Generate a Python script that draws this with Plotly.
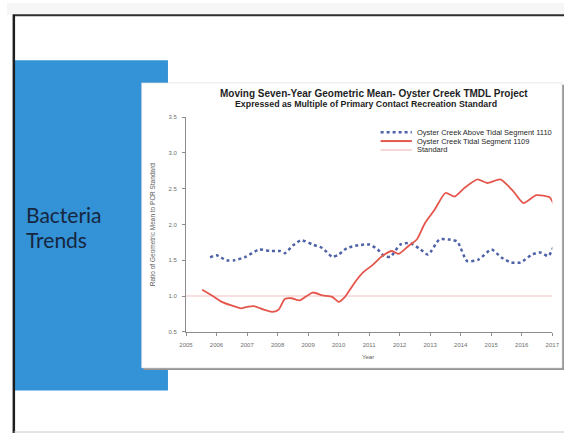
import plotly.graph_objects as go

W, H = 571, 436

# ---------------- data ----------------
red_years = [2005.53, 2005.85, 2006.17, 2006.49, 2006.80, 2007.00, 2007.23, 2007.55, 2007.82,
             2008.03, 2008.24, 2008.46, 2008.72, 2009.15, 2009.47, 2009.79, 2010.00, 2010.21,
             2010.53, 2010.80, 2011.10, 2011.43, 2011.75, 2011.97, 2012.29, 2012.56, 2012.83,
             2013.15, 2013.50, 2013.80, 2014.12, 2014.55, 2014.87, 2015.30, 2015.73, 2016.05,
             2016.48, 2016.91, 2017.05]
red_vals = [1.09, 1.01, 0.92, 0.87, 0.83, 0.85, 0.86, 0.81, 0.78,
            0.81, 0.96, 0.97, 0.94, 1.05, 1.01, 0.99, 0.92, 0.99,
            1.19, 1.33, 1.43, 1.56, 1.63, 1.59, 1.70, 1.79, 2.02,
            2.21, 2.44, 2.39, 2.51, 2.63, 2.58, 2.63, 2.46, 2.30,
            2.41, 2.38, 2.28]

blue_years = [2005.79, 2006.00, 2006.33, 2006.59, 2006.96, 2007.39, 2007.76, 2008.08, 2008.24,
              2008.51, 2008.78, 2009.15, 2009.47, 2009.79, 2010.00, 2010.27, 2010.64, 2011.01,
              2011.28, 2011.49, 2011.70, 2012.02, 2012.34, 2012.66, 2012.93, 2013.30, 2013.62,
              2013.89, 2014.21, 2014.58, 2015.01, 2015.33, 2015.65, 2015.96, 2016.33, 2016.60,
              2016.87, 2017.05]
blue_vals = [1.54, 1.57, 1.50, 1.50, 1.55, 1.65, 1.63, 1.63, 1.60,
             1.71, 1.78, 1.72, 1.67, 1.55, 1.58, 1.67, 1.71, 1.72,
             1.65, 1.56, 1.55, 1.72, 1.74, 1.66, 1.58, 1.79, 1.79,
             1.76, 1.49, 1.51, 1.65, 1.54, 1.47, 1.47, 1.58, 1.61,
             1.56, 1.70]

std_years = [2005.0, 2017.0]
std_vals = [1.0, 1.0]

x_ticks = list(range(2005, 2018))
y_ticks = [0.5, 1.0, 1.5, 2.0, 2.5, 3.0, 3.5]
y_tick_labels = ["0.5", "1.0", "1.5", "2.0", "2.5", "3.0", "3.5"]

series_names = ["Oyster Creek Above Tidal Segment 1110",
                "Oyster Creek Tidal Segment 1109",
                "Standard"]

title1 = "Moving Seven-Year Geometric Mean- Oyster Creek TMDL Project"
title2 = "Expressed as Multiple of Primary Contact Recreation Standard"

# ---------------- styling ----------------
FONT = "Liberation Sans"
BLUE_LINE = "rgb(78,98,168)"
RED_LINE = "rgb(228,86,76)"
STD_LINE = "rgb(246,214,214)"
SLIDE_BLUE = "rgb(52,146,214)"


def px(x):
    return x / W


def py(y):
    return 1 - y / H


fig = go.Figure()
fig.add_trace(go.Scatter(x=std_years, y=std_vals, mode="lines", name=series_names[2],
                         line=dict(color=STD_LINE, width=1.5), showlegend=False))
fig.add_trace(go.Scatter(x=blue_years, y=blue_vals, mode="lines", name=series_names[0],
                         line=dict(color=BLUE_LINE, width=2.5, dash="dot", shape="spline",
                                   smoothing=0.6), showlegend=False))
fig.add_trace(go.Scatter(x=red_years, y=red_vals, mode="lines", name=series_names[1],
                         line=dict(color=RED_LINE, width=1.8, shape="spline", smoothing=0.6),
                         showlegend=False))

shapes = []
# slide background tint above the frame
shapes.append(dict(type="rect", xref="paper", yref="paper", x0=0, x1=1, y0=py(12), y1=1,
                   fillcolor="rgb(246,246,246)", line=dict(width=0), layer="below"))
# blue slide block
shapes.append(dict(type="rect", xref="paper", yref="paper", x0=px(8), x1=px(165),
                   y0=py(393), y1=py(58), fillcolor=SLIDE_BLUE, line=dict(width=0), layer="below"))
# chart panel shadow
shapes.append(dict(type="rect", xref="paper", yref="paper", x0=px(140), x1=px(571),
                   y0=py(372), y1=py(83), fillcolor="rgb(150,150,150)", line=dict(width=0),
                   layer="below"))
# chart panel
shapes.append(dict(type="rect", xref="paper", yref="paper", x0=px(138), x1=px(569),
                   y0=py(370), y1=py(81), fillcolor="white",
                   line=dict(width=0.6, color="rgb(215,215,215)"), layer="below"))
# slide frame lines
shapes.append(dict(type="line", xref="paper", yref="paper", x0=px(6), x1=1, y0=py(12.5),
                   y1=py(12.5), line=dict(color="rgb(45,45,45)", width=2), layer="above"))
shapes.append(dict(type="line", xref="paper", yref="paper", x0=px(7), x1=px(7), y0=0,
                   y1=py(12), line=dict(color="rgb(30,30,30)", width=2.5), layer="above"))
shapes.append(dict(type="line", xref="paper", yref="paper", x0=px(7), x1=1, y0=py(435),
                   y1=py(435), line=dict(color="rgb(200,200,200)", width=1), layer="above"))

# custom compact legend
leg_x0, leg_x1 = 383, 415
leg_rows = [131, 140, 149]
leg_styles = [dict(color=BLUE_LINE, width=2.5, dash="dot"),
              dict(color=RED_LINE, width=2),
              dict(color=STD_LINE, width=2)]
for yy, st in zip(leg_rows, leg_styles):
    shapes.append(dict(type="line", xref="paper", yref="paper", x0=px(leg_x0), x1=px(leg_x1),
                       y0=py(yy), y1=py(yy), line=st, layer="above"))

annotations = []
for yy, name in zip(leg_rows, series_names):
    annotations.append(dict(xref="paper", yref="paper", x=px(418), y=py(yy), text=name,
                            showarrow=False, xanchor="left", yanchor="middle",
                            font=dict(family=FONT, size=7.5, color="rgb(40,40,40)")))

annotations.append(dict(xref="paper", yref="paper", x=px(376), y=py(92), text="<b>" + title1 + "</b>",
                        showarrow=False, xanchor="center", yanchor="middle",
                        font=dict(family=FONT, size=10, color="rgb(30,30,30)")))
annotations.append(dict(xref="paper", yref="paper", x=px(368), y=py(102), text="<b>" + title2 + "</b>",
                        showarrow=False, xanchor="center", yanchor="middle",
                        font=dict(family=FONT, size=8.8, color="rgb(30,30,30)")))
annotations.append(dict(xref="paper", yref="paper", x=px(150), y=py(224),
                        text="Ratio of Geometric Mean to PCR Standard",
                        showarrow=False, textangle=-90, xanchor="center", yanchor="middle",
                        font=dict(family=FONT, size=6.5, color="rgb(90,90,90)")))
annotations.append(dict(xref="paper", yref="paper", x=px(370), y=py(359), text="Year",
                        showarrow=False, xanchor="center", yanchor="middle",
                        font=dict(family=FONT, size=6, color="rgb(90,90,90)")))
annotations.append(dict(xref="paper", yref="paper", x=px(17), y=py(214), text="Bacteria",
                        showarrow=False, xanchor="left", yanchor="middle",
                        font=dict(family="Lato", size=21, color="rgb(22,38,62)")))
annotations.append(dict(xref="paper", yref="paper", x=px(17), y=py(240), text="Trends",
                        showarrow=False, xanchor="left", yanchor="middle",
                        font=dict(family="Lato", size=21, color="rgb(22,38,62)")))

fig.update_layout(
    width=W, height=H,
    margin=dict(l=0, r=0, t=0, b=0),
    paper_bgcolor="white",
    plot_bgcolor="rgba(0,0,0,0)",
    showlegend=False,
    shapes=shapes,
    annotations=annotations,
    xaxis=dict(domain=[px(183.5), px(559)], range=[2005, 2017], tickvals=x_ticks,
               ticktext=[str(t) for t in x_ticks], showgrid=False, zeroline=False,
               showline=True, linecolor="rgb(140,140,140)", linewidth=1,
               ticks="outside", ticklen=3, tickcolor="rgb(140,140,140)",
               tickfont=dict(family=FONT, size=6, color="rgb(110,110,110)"),
               ticklabelstandoff=4),
    yaxis=dict(domain=[py(333.5), py(115.7)], range=[0.5, 3.5], tickvals=y_ticks,
               ticktext=y_tick_labels, showgrid=False, zeroline=False,
               showline=True, linecolor="rgb(140,140,140)", linewidth=1,
               ticks="outside", ticklen=3, tickcolor="rgb(140,140,140)",
               tickfont=dict(family=FONT, size=6, color="rgb(110,110,110)"),
               ticklabelstandoff=4),
)

fig.write_html("out.html",
               config={"displayModeBar": False},
               post_script="document.body.style.margin='0';document.body.style.padding='0';"
                           "document.body.style.overflow='hidden';"
                           "document.documentElement.style.overflow='hidden';"
                           "var gd=document.getElementById('{plot_id}');"
                           "gd.style.position='fixed';gd.style.left='0px';gd.style.top='0px';")
